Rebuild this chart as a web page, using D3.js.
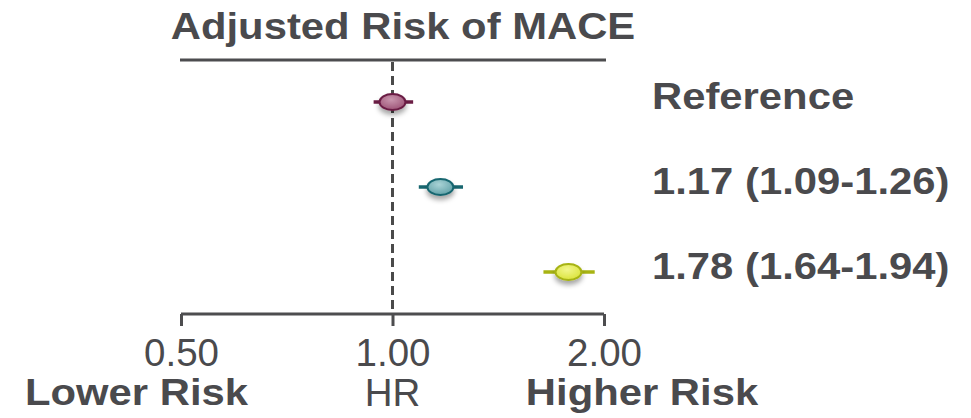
<!DOCTYPE html>
<html>
<head>
<meta charset="utf-8">
<script src="https://cdn.jsdelivr.net/npm/d3@7"></script>
<style>
  body { margin: 0; background: #fff; }
  svg { display: block; font-family: "Liberation Sans", Arial, sans-serif; }
</style>
</head>
<body>
<div id="chart"></div>
<script>
// forest plot data
const rows = ["Reference", "1.17 (1.09-1.26)", "1.78 (1.64-1.94)"];
const hr = [1.0, 1.17, 1.78];
const lower = [0.94, 1.09, 1.64];
const upper = [1.07, 1.26, 1.94];
const tickValues = [0.5, 1, 2];
const colors = [
    { stroke: "#6b1d44", light: "#c996ae", mid: "#9a4f73" },
    { stroke: "#17666f", light: "#a9d3d6", mid: "#5d9ea5" },
    { stroke: "#a7b312", light: "#f2f68c", mid: "#d9e236" },
];

const width = 971, height = 418;
const textColor = "#4a4a4d";

const svg = d3.select("#chart").append("svg")
    .attr("width", width)
    .attr("height", height);

const defs = svg.append("defs");
colors.forEach((c, i) => {
    const g = defs.append("radialGradient")
        .attr("id", "grad" + i)
        .attr("cx", "45%").attr("cy", "35%").attr("r", "70%");
    g.append("stop").attr("offset", "0%").attr("stop-color", c.light);
    g.append("stop").attr("offset", "100%").attr("stop-color", c.mid);
});
const f = defs.append("filter").attr("id", "shadow")
    .attr("x", "-50%").attr("y", "-50%").attr("width", "200%").attr("height", "250%");
f.append("feDropShadow")
    .attr("dx", 0).attr("dy", 4).attr("stdDeviation", 2.5)
    .attr("flood-color", "#000").attr("flood-opacity", 0.35);

const x = d3.scaleLog().domain([0.5, 2]).range([181, 604]);
const y = d3.scalePoint().domain(rows).range([102, 272]);

// bold text in the original is a little wider than Arial
function boldText(str, tx, ty, anchor) {
    return svg.append("text")
        .attr("transform", `translate(${tx},${ty}) scale(1.13,1)`)
        .attr("text-anchor", anchor)
        .attr("font-size", 37)
        .attr("font-weight", "bold")
        .attr("fill", textColor)
        .text(str);
}

// title and its rule
boldText("Adjusted Risk of MACE", 403, 39, "middle");
svg.append("line")
    .attr("x1", x(0.5) - 1).attr("x2", x(2) + 2)
    .attr("y1", 60).attr("y2", 60)
    .attr("stroke", "#4d4d4f").attr("stroke-width", 3);

// axis
const axisY = 314;
const axis = d3.axisBottom(x)
    .tickValues(tickValues)
    .tickSize(12)
    .tickFormat(d3.format(".2f"));
const ax = svg.append("g")
    .attr("transform", `translate(0,${axisY})`)
    .call(axis);
ax.select(".domain")
    .attr("d", `M${x(0.5)},0H${x(2)}`)
    .attr("stroke", "#4d4d4f").attr("stroke-width", 3);
ax.selectAll(".tick line").attr("stroke", "#4d4d4f").attr("stroke-width", 3);
ax.selectAll(".tick text")
    .attr("y", 52).attr("dy", 0)
    .attr("font-size", 38.5)
    .attr("font-family", "Liberation Sans, Arial, sans-serif")
    .attr("fill", textColor);

// reference line at HR = 1
svg.append("line")
    .attr("x1", x(1)).attr("x2", x(1))
    .attr("y1", 62).attr("y2", axisY)
    .attr("stroke", "#4a4a4a").attr("stroke-width", 3)
    .attr("stroke-dasharray", "9 5");

// whiskers and markers
const g = svg.append("g");
rows.forEach((r, i) => {
    g.append("line")
        .attr("x1", x(lower[i])).attr("x2", x(upper[i]))
        .attr("y1", y(r)).attr("y2", y(r))
        .attr("stroke", colors[i].stroke).attr("stroke-width", 3.5);
    g.append("ellipse")
        .attr("cx", x(hr[i])).attr("cy", y(r))
        .attr("rx", 13).attr("ry", 8)
        .attr("fill", `url(#grad${i})`)
        .attr("stroke", colors[i].stroke).attr("stroke-width", 2)
        .attr("filter", "url(#shadow)");
    boldText(r, 652, y(r) + 7, "start");
});

// bottom labels
boldText("Lower Risk", 25, 405, "start");
svg.append("text")
    .attr("x", x(1)).attr("y", 406)
    .attr("text-anchor", "middle")
    .attr("font-size", 38.5)
    .attr("fill", textColor)
    .text("HR");
boldText("Higher Risk", 642, 405, "middle");
</script>
</body>
</html>
